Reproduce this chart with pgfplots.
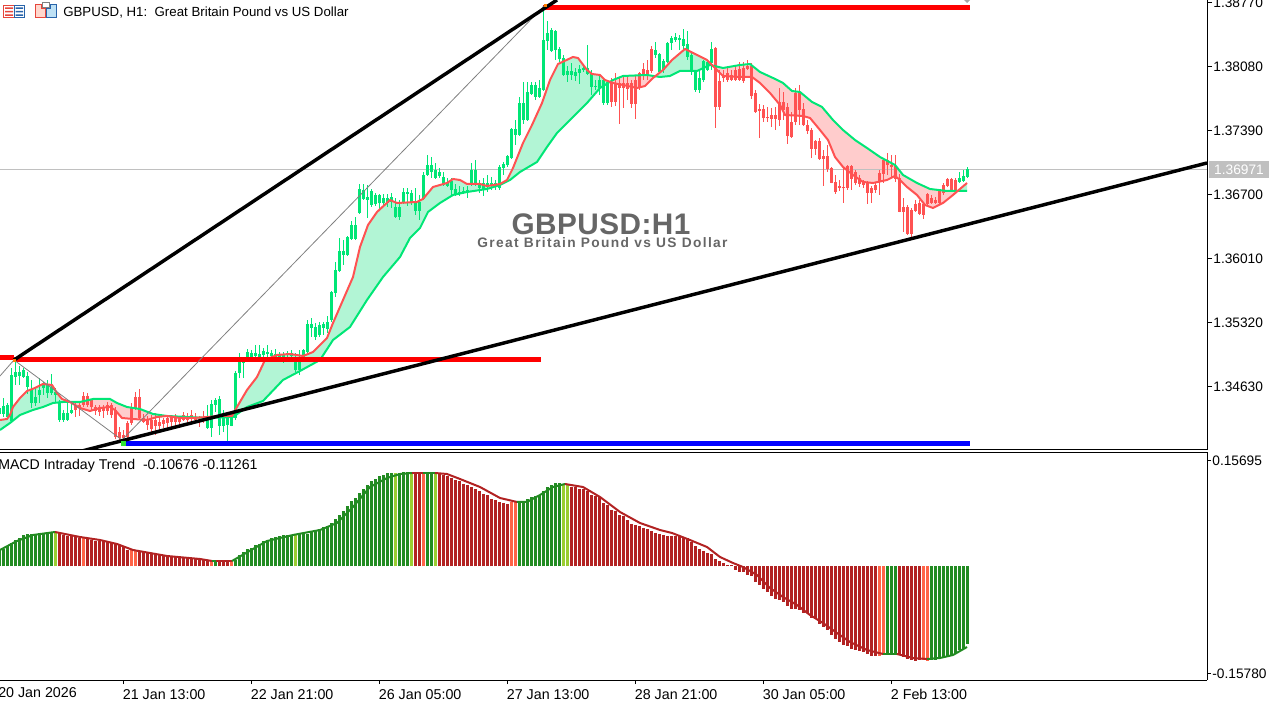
\documentclass[border=0pt]{standalone}
\usepackage{pgfplots}
\usepackage{pgfplotstable}
\usepackage{fontspec}
\setmainfont{Liberation Sans}
\newfontfamily\wmA[LetterSpace=1.5]{Liberation Sans}
\newfontfamily\wmB[LetterSpace=10]{Liberation Sans}
\pgfplotsset{compat=1.18}
\definecolor{cg}{HTML}{00E676}
\definecolor{cr}{HTML}{FF5252}
\definecolor{fg}{HTML}{B2F5D5}
\definecolor{fr}{HTML}{FFCCCC}
\definecolor{mg}{HTML}{228B22}
\definecolor{my}{HTML}{9ACD32}
\definecolor{mr}{HTML}{B22222}
\definecolor{mt}{HTML}{FF6347}
\def\PY#1{(1.3877-(#1-3)*0.0069/64)}
\pgfplotstableread{
i hi top bot lo
0 405 408 414 420
1 398 406 414 417
2 403 405 417 420
3 368 375 421.5 422
4 360 372 377 385
5 366 372 376 385
6 368 370 377 378
7 372 376 387 394
8 380 390 403 408
9 388 397 403 406
10 378 390 395 403
11 382 385 388 395
12 380 385 393 398
13 374 387 393 395
14 388 392 395 403
15 400 403 420 422
16 410 413 420 422
17 403 413 420 421
18 402 410 412.7 414
52 405 418 428 429
53 400 404 428 437
54 398 400 405 412
55 396 399 426 435
56 410 415 426 432
57 415 418 425 441
58 411 416 426 426.5
59 371 373 418 420
60 353 362 373 378
61 360 361 363 378
62 349 352 357 362
63 350 353 357 360
64 345 353 356 360
65 345 354 357 358
66 348 351 355 360
67 345 352 354 362
68 350 353 356 360
69 349 354 357 362
70 352 354 357 360
71 352 355 357 363
72 351 353 355 358
73 350 353 356 360
74 353 357 370 372
75 350 360 370 375
76 349 350 358 360
77 320 324 352 354
78 318 324 328 337
79 323 327 337 340
80 322 325 335 337
81 322 324 328 335
82 316 322 329 333
83 291 292 320 322
84 262 270 293 297
85 238 251 271 272
86 240 251 255 265
87 236 237 255 256
88 221 225 239 240
89 217 225 239 240
90 184 189 213 214
91 184 190 199 200
92 185 197 200 218
93 189 191 205 207
94 193 195 204 206
95 194 195 203.5 210
96 194 198 203 207
97 194 198 203 207
98 193 197 202 208
99 198 207 217 218
100 200 207 217 220
101 188 192 202 204
102 188 192 194 206
103 190 193 203 205
104 188 202 211 215
105 195 202 211 220
106 172 175 199 200
107 155 165 175 176
108 157 165 172 178
109 163 170 178 179
110 168 172 176 178
111 172 177 185 186
112 178 182 186 187
113 178 181 190 195
114 184 189 194 196
115 186 191.7 193.3 196
116 187 191 193 194
117 186 190 192 198
118 163 170 184 186
119 160 170 183 186
120 180 185 188 193
121 178 183 190 196
122 175 183 187 192
123 177 183 186 190
124 180 183 186 190
125 165 167 188 190
126 162 164 168 175
127 155 156 165 167
128 128 129 158 159
129 120 129 135 145
130 97 103 135 136
131 82 103 120 124
132 82 92 120 121
133 82 85 94 95
134 82 85 97 100
135 80 88 97 98
136 9 40 90 91
137 21 33 41 50
138 28 30 51 52
139 30 31 50 60
140 47 49 59 62
141 55 58 75 76
142 66 71 75 82
143 63 71 75 80
144 68 72 76 81
145 65 69 73 84
146 65 68 70 72
147 45 68 74 75
148 70 73 87 95
149 80 86 87 90
150 75 80 88 95
151 78 80 103 105
152 80 82 103 105
164 42 50 55 58
165 53 54 72 74
166 59 61 70 73
167 42 43 62 63
168 36 38 43 50
169 33 37 40 42
170 35 38 40 50
171 29 39 46 50
172 31 44 57 60
173 53 55 72 75
174 70 72 90 92
175 70 78 90 93
176 60 61 80 82
177 60 62 70 71
178 42 49 63 70
240 172 178 182 183
241 170 176 181 182
242 167 169 177 178
}\CG
\pgfplotstableread{
i hi top bot lo
19 403 405 410 417
20 402 405 408 416
21 392 396 405 407
22 393 396 405 407
23 399 400 407 410
24 405 407 411 415
25 405 407 412 416
26 405 408 411 418
27 402 405 411 415
28 403 405 415 418
29 407 410 437 439
30 427 432 438 440
31 430 435 438 441
32 421 423 437 438
33 403 408 423 425
34 392 397 408 410
35 389 397 418 420
36 414 418 422 423
37 416 420 425 430
38 415 420 429 433
39 413 420 426 435
40 416 422 426 432
41 418 420 424 428
42 416 418 423 430
43 415 417 422 428
44 414 417 422 427
45 416 418 422 428
46 412 415 420 421
47 413 416 420 422
48 410 415 419 421
49 413 418 420 422
50 416 419 420.5 427
51 411 417 419 423
153 78 82 102 107
154 73 83 102 106
155 78 83 88 124
156 75 83 88 108
157 75 83 89 100
158 80 83 104 108
159 75 80 104 119
160 72 73 88 90
161 63 69 75 80
162 60 70 76 80
163 46 49 71 73
179 47 48 107 128
180 70 81 107 110
181 70 75 78 82
182 68 73 80 82
183 70 75 80 81
184 66 70 80 81
185 62 69 80 81
186 62 68 81 83
187 60 66 69 70
188 63 66 96 99
189 90 93 112 113
190 104 109 111 138
191 105 109 118 122
192 107 117 118.5 122
193 108 115 119 127
194 107 115 119 130
195 88 102 120 126
196 92 102 110 120
197 103 107 136 144
198 112 122 137 138
199 88 93 122 125
200 85 93 110 125
201 103 109 125 126
202 120 125 131 134
203 128 130 149 158
204 140 141 149 155
205 138 141 159 160
206 150 156 159 186
207 145 156 169 172
208 167 168 183 183.5
209 175 182 192 194
210 180 186 188 191
211 168 187 188.5 203
212 165 166 188 190
213 165 166 179 190
214 170 172 183 185
215 175 178 184 187
216 180 182 185 188
217 181 183 193 204
218 186 188 193 203
219 183 185 190 193
220 170 173 182 195
221 158 160 174 183
222 153 160 165 175
223 155 165 167 178
224 155 166 179 182
225 174 178 212 212.5
226 198 207 212 232
227 205 207 234 235
228 208 210 234 237
229 200 204 211 212
230 200 203 214 215
231 203 204 215 219
232 193 194 204 205
233 195 198 203 204
234 197 200 203 204
235 190 191 203 205
236 183 185 193 195
237 178 179 186 187
238 178 179 190 191
239 178 180 190 191
}\CR
\pgfplotstableread{
x y
0 420
7 419
10 415
13 407
20 398
27 391
35 388
43 384
52 385
57 393
62 399
70 402
80 408
90 411
100 408
110 407
115 410
122 418
133 419
147 420
157 417
167 416
180 418
193 418
207 417
220 416
232 416
237 407
247 390
257 377
265 360
277 355
290 354
303 356
313 352
327 338
333 323
343 300
353 277
360 247
368 225
377 212
390 200
397 203
417 202
423 199
433 187
447 183
453 179
460 180
467 184
480 184
487 186
500 184
507 180
513 168
523 143
532 125
542 103
550 80
558 64
573 57
578 58
587 70
592 74
600 75
605 80
613 83
623 85
637 88
645 86
653 78
663 70
672 60
685 49
697 55
707 60
715 68
723 76
740 77
752 77
760 83
770 93
780 105
785 115
803 116
810 118
820 130
828 140
835 157
843 167
853 175
863 182
873 183
887 180
895 176
900 180
907 187
917 195
925 205
933 208
943 203
953 195
967 183
}\MAR
\pgfplotstableread{
x y
0 430
10 423
20 415
33 410
43 407
53 403
63 402
80 402
93 399
110 399
117 403
127 407
140 409
153 414
167 416
187 417
207 418
233 417
247 407
263 401
283 380
300 371
320 360
333 340
350 327
367 300
383 277
400 257
410 238
420 228
428 212
440 203
453 195
467 192
487 189
500 185
510 180
520 172
537 162
547 147
557 133
570 120
587 103
600 88
613 80
623 76
647 75
660 77
670 76
680 71
697 71
710 65
723 68
740 65
750 64
760 72
773 78
783 83
792 91
800 92
812 102
822 107
833 120
843 130
855 140
867 148
880 157
895 165
903 175
917 183
930 189
947 191
967 191
}\MAG
\pgfplotstableread{
x y
0 420
7 419
10 415
13 407
20 398
27 391
35 388
43 384
52 385
57 393
62 399
70 402
72 402.5
63 402
53 403
43 407
33 410
20 415
10 423
0 430
}\FA
\pgfplotstableread{
x y
72 402.5
80 408
90 411
100 408
110 407
115 410
122 418
133 419
147 420
157 417
167 416
180 418
193 418
206 417.5
187 417
167 416
153 414
140 409
127 407
117 403
110 399
93 399
80 402
}\FB
\pgfplotstableread{
x y
207 417
220 416
232 416
237 407
247 390
257 377
265 360
277 355
290 354
303 356
313 352
327 338
333 323
343 300
353 277
360 247
368 225
377 212
390 200
397 203
417 202
423 199
433 187
447 183
453 179
460 180
467 184
480 184
487 186
500 184
507 180
513 168
523 143
532 125
542 103
550 80
558 64
573 57
578 58
587 70
592 74
600 75
605 80
610 82
600 88
587 103
570 120
557 133
547 147
537 162
520 172
510 180
500 185
487 189
467 192
453 195
440 203
428 212
420 228
410 238
400 257
383 277
367 300
350 327
333 340
320 360
300 371
283 380
263 401
247 407
233 417
}\FC
\pgfplotstableread{
x y
610 82
613 83
623 85
637 88
645 86
653 78
655 76
647 75
623 76
613 80
}\FD
\pgfplotstableread{
x y
655 76
663 70
672 60
685 49
697 55
707 60
713 66
710 65
697 71
680 71
670 76
660 77
}\FE
\pgfplotstableread{
x y
713 66
715 68
723 76
740 77
752 77
760 83
770 93
780 105
785 115
803 116
810 118
820 130
828 140
835 157
843 167
853 175
863 182
873 183
887 180
895 176
900 180
907 187
917 195
925 205
933 208
943 203
953 195
958 191
947 191
930 189
917 183
903 175
895 165
880 157
867 148
855 140
843 130
833 120
822 107
812 102
800 92
792 91
783 83
773 78
760 72
750 64
740 65
723 68
}\FF
\pgfplotstableread{
x y
958 191
967 183
967 191
}\FH
\pgfplotstableread{
i v
0 16.7
1 17.7
2 20
3 23.3
4 26.7
5 28.3
6 31.7
7 32.7
8 32.7
9 32.7
10 33.3
11 33.3
12 34.3
13 34.3
54 5.7
59 6.7
60 11.7
61 14
62 17.3
63 18.3
64 21.7
65 22.3
66 25.7
67 26.7
68 28.3
69 29
70 30
71 31
72 31.7
73 31.7
75 32.3
76 32.3
77 32.7
78 34.3
79 35.7
80 37.7
81 39.3
82 40.7
83 43.3
84 47.3
85 51.7
86 55.7
87 60
88 65
89 68.3
90 73.3
91 77.3
92 81.7
93 85
94 87.7
95 90
96 91.7
97 93.3
98 93.3
100 93.3
101 94.3
102 94.3
107 93.3
108 93.3
130 64
131 64
132 67.3
133 69.3
134 70.3
135 71.7
136 75.7
137 79
138 81.7
139 83.3
140 83.3
222 -88.3
223 -88.3
224 -88.3
233 -93.3
234 -93.3
235 -92.3
236 -91.3
237 -90
238 -89
239 -87.3
240 -84
241 -82.3
242 -77.3
}\BG
\pgfplotstableread{
i v
14 34.3
74 32.3
99 93.3
103 92.7
109 92.7
141 81
142 81
}\BY
\pgfplotstableread{
i v
21 28.3
33 16
34 16
53 5.7
58 5
106 92.7
128 64
129 64
220 -89.7
221 -88.3
231 -93.3
232 -94.7
}\BT
\pgfplotstableread{
i v
15 33.3
16 31.7
17 30.7
18 30
19 30
20 28.3
22 27.7
23 26.7
24 25.7
25 25
26 25
27 24
28 23.3
29 22.3
30 21
31 19.3
32 16.7
35 15.7
36 14.3
37 14
38 13.3
39 13.3
40 12.3
41 11.7
42 10.7
43 10
44 10
45 9
46 8.3
47 7.7
48 7.7
49 7.7
50 7.7
51 6.7
52 6.7
55 5.7
56 5.7
57 5
104 92.7
105 92.7
110 92.7
111 91.7
112 90.7
113 88.3
114 86.7
115 85
116 82.7
117 81
118 79.7
119 77.7
120 75
121 72.7
122 71
123 67.7
124 66
125 64.7
126 63
127 62.7
143 79.7
144 79
145 77.7
146 77.7
147 75
148 71.7
149 70
150 69
151 63.3
152 61
153 56.7
154 55
155 51.7
156 50
157 46.7
158 42.7
159 41
160 40
161 38.5
162 37.5
163 35.5
164 33.5
165 32.5
166 31.5
167 30.5
168 30.5
169 30.5
170 30.5
171 29.5
172 28.5
173 24.3
174 20
175 17
176 15
177 13.3
178 12
179 7.7
180 5.3
181 3.3
182 1.7
183 1
184 -3.3
185 -5.7
186 -5.7
187 -8.3
188 -10
189 -15.7
190 -19
191 -23
192 -25.7
193 -30
194 -33
195 -33.3
196 -35.7
197 -39.7
198 -43
199 -42.3
200 -43.3
201 -46.7
202 -46.7
203 -51.7
204 -52.3
205 -57.3
206 -60.7
207 -64
208 -69
209 -72.3
210 -75.7
211 -79
212 -80
213 -82.3
214 -84
215 -84.7
216 -85.7
217 -87.3
218 -89.7
219 -89.7
225 -88.3
226 -90.7
227 -92.3
228 -93.3
229 -94.7
230 -94
}\BR
\pgfplotsset{
 barp/.style={ycomb,line width=2.25pt,forget plot,no markers},
 sigp/.style={line width=1.5pt,forget plot,no markers},
 reg/.style={fill=#1,draw=none,forget plot},
 wick/.style={draw=none,no markers,forget plot,error bars/.cd,y dir=plus,y explicit,error mark=none,error bar style={line width=0.75pt,draw=#1}},
 body/.style={draw=none,no markers,forget plot,error bars/.cd,y dir=plus,y explicit,error mark=none,error bar style={line width=2.25pt,draw=#1}},
}
\begin{document}
\begin{tikzpicture}[x=0.75pt,y=-0.75pt]
\path[use as bounding box] (0,0) rectangle (1282,705);
% ---------- price pane
\begin{axis}[at={(0pt,-337.5pt)},anchor=south west,scale only axis,
 width=905.25pt,height=337.5pt,xmin=0,xmax=1207,ymin=1.339508,ymax=1.388023,
 axis x line=bottom,axis y line=right,axis line style={-,black,line width=0.75pt},
 xtick=\empty,
 ytick={1.3877,1.3808,1.3739,1.367,1.3601,1.3532,1.3463},
 scaled y ticks=false,tick align=outside,major tick length=3.75pt,
 tick style={black,line width=0.75pt},
 yticklabel style={/pgf/number format/.cd,fixed,fixed zerofill,precision=5,1000 sep={},assume math mode=true,/tikz/.cd,font=\fontsize{10.3}{12}\selectfont,xshift=-2.5pt},
 clip=true]
\addplot[reg=fg] table[x=x,y expr=\PY{\thisrow{y}}] {\FA};
\addplot[reg=fr] table[x=x,y expr=\PY{\thisrow{y}}] {\FB};
\addplot[reg=fg] table[x=x,y expr=\PY{\thisrow{y}}] {\FC};
\addplot[reg=fr] table[x=x,y expr=\PY{\thisrow{y}}] {\FD};
\addplot[reg=fg] table[x=x,y expr=\PY{\thisrow{y}}] {\FE};
\addplot[reg=fr] table[x=x,y expr=\PY{\thisrow{y}}] {\FF};
\addplot[reg=fg] table[x=x,y expr=\PY{\thisrow{y}}] {\FH};
\addplot[color={rgb,255:red,192;green,192;blue,192},line width=0.75pt,forget plot] coordinates {(0,1.36971)(1207,1.36971)};
% candles
\addplot[wick=cg] table[x expr=-0.5+4*\thisrow{i},y expr=\PY{\thisrow{lo}},y error plus expr=(\thisrow{lo}-\thisrow{hi})*0.0069/64] {\CG};
\addplot[body=cg] table[x expr=-0.5+4*\thisrow{i},y expr=\PY{\thisrow{bot}},y error plus expr=(\thisrow{bot}-\thisrow{top})*0.0069/64] {\CG};
\addplot[wick=cr] table[x expr=-0.5+4*\thisrow{i},y expr=\PY{\thisrow{lo}},y error plus expr=(\thisrow{lo}-\thisrow{hi})*0.0069/64] {\CR};
\addplot[body=cr] table[x expr=-0.5+4*\thisrow{i},y expr=\PY{\thisrow{bot}},y error plus expr=(\thisrow{bot}-\thisrow{top})*0.0069/64] {\CR};
% averages
\addplot[cg,line width=1.5pt,forget plot] table[x=x,y expr=\PY{\thisrow{y}}] {\MAG};
\addplot[cr,line width=1.5pt,forget plot] table[x=x,y expr=\PY{\thisrow{y}}] {\MAR};
% levels
\addplot[red,line width=3.75pt,forget plot] coordinates {(0,1.349481)(14,1.349481)};
\addplot[red,line width=3.75pt,forget plot] coordinates {(14,1.349265)(541,1.349265)};
\addplot[red,line width=3.75pt,forget plot] coordinates {(543,1.387215)(969.7,1.387215)};
\addplot[blue,line width=3.75pt,forget plot] coordinates {(123,1.340209)(970,1.340209)};
\addplot[color={rgb,255:red,128;green,128;blue,128},line width=0.6pt,forget plot] coordinates {(0,1.347486)(14,1.349211)(122,1.340586)(545,1.387484)};
\addplot[black,line width=2.6pt,forget plot] coordinates {(14,1.349211)(557,1.388023)};
\addplot[black,line width=2.6pt,forget plot] coordinates {(82,1.3394)(1207,1.37045)};
\addplot[only marks,mark=square*,mark size=1.5pt,color={rgb,255:red,50;green,230;blue,50},forget plot] coordinates {(123,1.340209)};
\addplot[only marks,mark=square*,mark size=0.8pt,color=orange,forget plot] coordinates {(14,1.349211)(545,1.387484)};
\end{axis}
% ---------- MACD pane
\begin{axis}[at={(0pt,-510pt)},anchor=south west,scale only axis,
 width=905.25pt,height=170.625pt,xmin=0,xmax=1207,ymin=-0.16773,ymax=0.16846,
 axis x line=box,axis y line=right,axis line style={-,black,line width=0.75pt},
 xtick pos=bottom,
 xtick={123,251,379,507,635,763,891},
 xticklabels={21 Jan 13:00,22 Jan 21:00,26 Jan 05:00,27 Jan 13:00,28 Jan 21:00,30 Jan 05:00,2 Feb 13:00},
 ytick={0.15695,-0.1578},
 scaled y ticks=false,tick align=outside,major tick length=3pt,
 tick style={black,line width=0.75pt},
 xticklabel style={font=\fontsize{10.7}{12}\selectfont,anchor=north west,xshift=-3.6pt,yshift=-0.5pt},
 yticklabel style={/pgf/number format/.cd,fixed,fixed zerofill,precision=5,1000 sep={},assume math mode=true,/tikz/.cd,font=\fontsize{10.3}{12}\selectfont,xshift=-2.5pt},
 clip=true]
\addplot[barp,mg] table[x expr=-0.5+4*\thisrow{i},y expr=\thisrow{v}/676.7] {\BG};
\addplot[barp,my] table[x expr=-0.5+4*\thisrow{i},y expr=\thisrow{v}/676.7] {\BY};
\addplot[barp,mt] table[x expr=-0.5+4*\thisrow{i},y expr=\thisrow{v}/676.7] {\BT};
\addplot[barp,mr] table[x expr=-0.5+4*\thisrow{i},y expr=\thisrow{v}/676.7] {\BR};
\addplot[sigp,mg] table[x=x,y expr=(566.5-\thisrow{y})/676.7] {
x y
0 550
17 541
33 535
55 532
};
\addplot[sigp,mr] table[x=x,y expr=(566.5-\thisrow{y})/676.7] {
x y
55 532
80 537
100 540
117 544
133 550
167 556
200 559
212 561
};
\addplot[sigp,mg] table[x=x,y expr=(566.5-\thisrow{y})/676.7] {
x y
212 561
216 561
};
\addplot[sigp,mr] table[x=x,y expr=(566.5-\thisrow{y})/676.7] {
x y
216 561
232 561
};
\addplot[sigp,mg] table[x=x,y expr=(566.5-\thisrow{y})/676.7] {
x y
232 561
267 541
293 535
320 530
337 523
353 507
370 487
387 478
400 474
412 473
};
\addplot[sigp,mr] table[x=x,y expr=(566.5-\thisrow{y})/676.7] {
x y
412 473
423 473
};
\addplot[sigp,mg] table[x=x,y expr=(566.5-\thisrow{y})/676.7] {
x y
423 473
435 473
};
\addplot[sigp,mr] table[x=x,y expr=(566.5-\thisrow{y})/676.7] {
x y
435 473
447 474
460 479
480 487
500 498
517 502
};
\addplot[sigp,mg] table[x=x,y expr=(566.5-\thisrow{y})/676.7] {
x y
517 502
527 502
540 495
553 487
565 484
};
\addplot[sigp,mr] table[x=x,y expr=(566.5-\thisrow{y})/676.7] {
x y
565 484
583 487
600 497
620 512
640 523
660 530
672 533
690 540
707 547
720 557
733 563
743 567
757 575
770 588
783 597
797 605
810 615
823 623
837 633
850 642
867 650
883 654
};
\addplot[sigp,mg] table[x=x,y expr=(566.5-\thisrow{y})/676.7] {
x y
883 654
897 654
};
\addplot[sigp,mr] table[x=x,y expr=(566.5-\thisrow{y})/676.7] {
x y
897 654
913 658
927 659
};
\addplot[sigp,mg] table[x=x,y expr=(566.5-\thisrow{y})/676.7] {
x y
927 659
940 658
953 655
967 647
};
\end{axis}
% ---------- text and furniture
\node[anchor=west,inner sep=0pt,font=\fontsize{9.95}{12}\selectfont] at (63,12.5) {GBPUSD, H1:\ \ Great Britain Pound vs US Dollar};
\node[anchor=west,inner sep=0pt,font=\fontsize{10.6}{12}\selectfont] at (-2,465.5) {MACD Intraday Trend\ \ -0.10676 -0.11261};
\node[anchor=west,inner sep=0pt,font=\fontsize{10.7}{12}\selectfont] at (-2,693) {20 Jan 2026};
\node[inner sep=0pt,text={rgb,255:red,102;green,102;blue,102},font=\wmA\bfseries\fontsize{22.3}{24}\selectfont] at (601,224) {GBPUSD:H1};
\node[inner sep=0pt,text={rgb,255:red,102;green,102;blue,102},font=\wmB\bfseries\fontsize{10.3}{12}\selectfont] at (602.5,243) {Great Britain Pound vs US Dollar};
\fill[color={rgb,255:red,192;green,192;blue,192}] (1209,161) rectangle (1269,178);
\node[inner sep=0pt,text=white,font=\fontsize{10.3}{12}\selectfont] at (1239,170) {1.36971};
\fill[gray!70] (964,0) -- (970,0) -- (967,3) -- cycle;
% title icons
\draw[color={rgb,255:red,230;green,70;blue,60},line width=0.75pt,fill=white] (3.5,5.5) rectangle (14,17.5);
\fill[color={rgb,255:red,230;green,70;blue,60}] (5,7.5) rectangle (13,9) (5,11) rectangle (13,12.5) (5,14.5) rectangle (13,16);
\draw[color={rgb,255:red,40;green,100;blue,170},line width=0.75pt,fill=white] (14,5.5) rectangle (24.5,17.5);
\fill[color={rgb,255:red,40;green,100;blue,170}] (15.5,7.5) rectangle (23,9) (15.5,11) rectangle (23,12.5) (15.5,14.5) rectangle (23,16);
\draw[color={rgb,255:red,230;green,70;blue,60},line width=0.75pt,fill={rgb,255:red,255;green,215;blue,205}] (35.5,5) -- (41.5,5) -- (41.5,9) -- (45.5,9) -- (45.5,18) -- (35.5,18) -- cycle;
\draw[color={rgb,255:red,40;green,100;blue,170},line width=0.75pt,fill={rgb,255:red,190;green,225;blue,245}] (46.5,9) -- (50,9) -- (50,5) -- (56.5,5) -- (56.5,18) -- (46.5,18) -- cycle;
\draw[color=gray,line width=0.75pt,fill=white] (42,3) rectangle (49,7.5);
\end{tikzpicture}
\end{document}
